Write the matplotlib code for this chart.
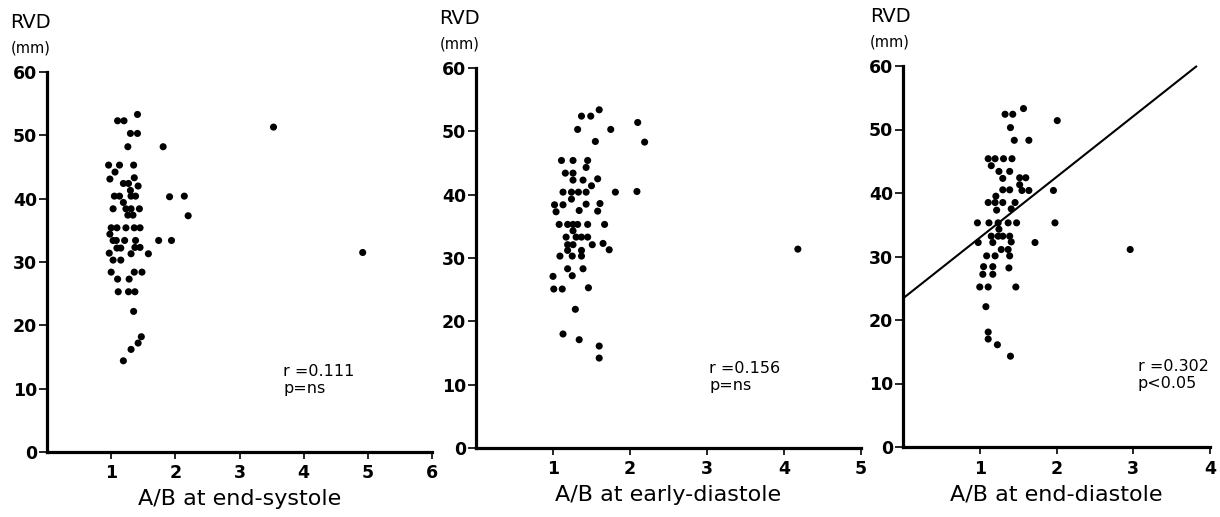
import matplotlib
matplotlib.use("Agg")
import matplotlib.pyplot as plt
import numpy as np

# ---- data -----------------------------------------------------------
es_x = [1.41, 1.10, 1.20, 1.30, 1.41, 3.53, 1.26, 1.81, 0.96, 1.13, 1.35, 0.98,
        1.06, 1.36, 1.19, 1.27, 1.42, 1.30, 1.05, 1.13, 1.31, 1.38, 1.91, 2.14,
        1.19, 1.03, 1.23, 1.31, 1.44, 1.26, 1.34, 2.20, 1.00, 1.09, 1.23, 1.36,
        1.45, 0.98, 1.03, 1.08, 1.21, 1.38, 1.74, 1.94, 1.09, 1.15, 1.37, 1.45,
        0.97, 1.31, 1.58, 4.92, 1.03, 1.15, 1.00, 1.36, 1.48, 1.10, 1.28, 1.11,
        1.27, 1.37, 1.35, 1.47, 1.42, 1.31, 1.19]
es_y = [53.3, 52.3, 52.3, 50.3, 50.3, 51.3, 48.2, 48.2, 45.3, 45.3, 45.3, 43.1,
        44.2, 43.3, 42.4, 42.4, 42.0, 41.3, 40.4, 40.4, 40.4, 40.4, 40.3, 40.4,
        39.4, 38.4, 38.4, 38.4, 38.4, 37.4, 37.4, 37.3, 35.4, 35.4, 35.4, 35.4,
        35.4, 34.4, 33.4, 33.4, 33.4, 33.4, 33.4, 33.4, 32.2, 32.2, 32.3, 32.3,
        31.4, 31.3, 31.3, 31.5, 30.3, 30.3, 28.4, 28.4, 28.4, 27.3, 27.3, 25.3,
        25.3, 25.3, 22.2, 18.2, 17.2, 16.2, 14.4]

eyd_x = [1.60, 1.37, 1.49, 1.32, 1.75, 2.10, 1.55, 2.19, 1.11, 1.26, 1.45, 1.43,
         1.16, 1.26, 1.26, 1.39, 1.58, 1.50, 1.13, 1.24, 1.33, 1.43, 1.81, 2.09,
         1.24, 1.02, 1.13, 1.43, 1.61, 1.04, 1.34, 1.58, 1.08, 1.19, 1.26, 1.32,
         1.45, 1.67, 1.26, 1.17, 1.30, 1.37, 1.45, 1.19, 1.26, 1.51, 1.65, 1.73,
         1.19, 1.37, 1.09, 1.25, 1.37, 1.19, 1.39, 1.00, 1.25, 1.01, 1.12, 1.46,
         1.29, 1.13, 1.34, 1.60, 1.60, 4.18]
eyd_y = [53.4, 52.4, 52.4, 50.3, 50.3, 51.4, 48.4, 48.3, 45.4, 45.4, 45.4, 44.3,
         43.4, 43.4, 42.3, 42.3, 42.5, 41.4, 40.4, 40.4, 40.4, 40.4, 40.4, 40.5,
         39.3, 38.4, 38.4, 38.5, 38.6, 37.3, 37.5, 37.4, 35.3, 35.3, 35.3, 35.3,
         35.3, 35.3, 34.3, 33.3, 33.3, 33.3, 33.3, 32.1, 32.1, 32.1, 32.3, 31.3,
         31.2, 31.2, 30.3, 30.3, 30.3, 28.3, 28.3, 27.1, 27.2, 25.1, 25.1, 25.3,
         21.9, 18.0, 17.1, 16.1, 14.2, 31.4]

end_x = [1.57, 1.33, 1.43, 1.40, 2.01, 1.45, 1.64, 1.11, 1.20, 1.31, 1.42, 1.15,
         1.25, 1.39, 1.30, 1.52, 1.60, 1.52, 1.30, 1.39, 1.55, 1.64, 1.96, 1.21,
         1.11, 1.20, 1.30, 1.46, 1.22, 1.41, 0.97, 1.12, 1.24, 1.37, 1.48, 1.98,
         1.25, 1.15, 1.24, 1.30, 1.39, 0.98, 1.17, 1.41, 1.72, 1.28, 1.37, 2.96,
         1.09, 1.20, 1.39, 1.05, 1.17, 1.38, 1.04, 1.17, 1.00, 1.11, 1.47, 1.08,
         1.11, 1.11, 1.23, 1.40]
end_y = [53.3, 52.4, 52.4, 50.3, 51.4, 48.3, 48.3, 45.4, 45.4, 45.4, 45.4, 44.3,
         43.4, 43.4, 42.3, 42.4, 42.4, 41.3, 40.5, 40.5, 40.4, 40.4, 40.4, 39.5,
         38.5, 38.5, 38.5, 38.5, 37.3, 37.5, 35.3, 35.3, 35.3, 35.3, 35.3, 35.3,
         34.3, 33.2, 33.2, 33.2, 33.2, 32.2, 32.2, 32.3, 32.2, 31.1, 31.1, 31.1,
         30.1, 30.1, 30.1, 28.4, 28.4, 28.2, 27.2, 27.2, 25.2, 25.2, 25.2, 22.1,
         18.1, 17.0, 16.1, 14.3]

# regression line of the end-diastole panel
reg_intercept = 23.4
reg_slope = 9.56
reg_xrange = [0.0, 3.83]

panels = [
    dict(x=es_x, y=es_y, xmax=6, xlabel="A/B at end-systole",
         stats=["r =0.111", "p=ns"], stat_xy=(3.68, 11.4), reg=False),
    dict(x=eyd_x, y=eyd_y, xmax=5, xlabel="A/B at early-diastole",
         stats=["r =0.156", "p=ns"], stat_xy=(3.03, 11.2), reg=False),
    dict(x=end_x, y=end_y, xmax=4, xlabel="A/B at end-diastole",
         stats=["r =0.302", "p<0.05"], stat_xy=(3.06, 11.3), reg=True),
]
yticks = [0, 10, 20, 30, 40, 50, 60]

# ---- layout (pixels) -------------------------------------------------
W, H = 1220, 517
boxes = [  # left, bottom, right, top (pixels from top-left)
    (47, 452, 432, 72),
    (476, 448, 861, 68),
    (903, 447, 1210, 66),
]

fig = plt.figure(figsize=(W / 100, H / 100), dpi=100)
fig.patch.set_facecolor("white")

for p, (l, b, r, t) in zip(panels, boxes):
    ax = fig.add_axes([l / W, (H - b) / H, (r - l) / W, (b - t) / H])
    ax.scatter(p["x"], p["y"], s=26, color="black", edgecolors="none",
               zorder=3, clip_on=False)
    if p["reg"]:
        xr = np.array(reg_xrange)
        ax.plot(xr, reg_intercept + reg_slope * xr, color="black", lw=1.5,
                solid_capstyle="butt", clip_on=False)
    ax.set_xlim(0, p["xmax"])
    ax.set_ylim(0, 60)
    for s in ["top", "right"]:
        ax.spines[s].set_visible(False)
    for s in ["left", "bottom"]:
        ax.spines[s].set_linewidth(2.3)
    ax.set_xticks(list(range(1, p["xmax"] + 1)))
    ax.set_xticklabels([str(v) for v in range(1, p["xmax"] + 1)])
    ax.set_yticks(yticks)
    ax.set_yticklabels([str(v) for v in yticks])
    ax.tick_params(axis="y", direction="out", length=6, width=1.2, pad=1,
                   labelsize=12.5)
    ax.tick_params(axis="x", direction="out", length=5, width=1.2, pad=4,
                   labelsize=12.5)
    for lab in ax.get_xticklabels() + ax.get_yticklabels():
        lab.set_fontweight("bold")
    ax.set_xlabel(p["xlabel"], fontsize=16, labelpad=5)
    sx, sy = p["stat_xy"]
    ax.text(sx, sy, p["stats"][0] + "\n" + p["stats"][1], fontsize=11.5,
            va="center", ha="left", linespacing=1.15)
    # RVD / (mm) labels
    ax.text(-0.042, 1.129, "RVD", transform=ax.transAxes, fontsize=14,
            ha="center", va="center")
    ax.text(-0.042, 1.063, "(mm)", transform=ax.transAxes, fontsize=10.5,
            ha="center", va="center")

fig.savefig("out.png", dpi=100, facecolor="white")
